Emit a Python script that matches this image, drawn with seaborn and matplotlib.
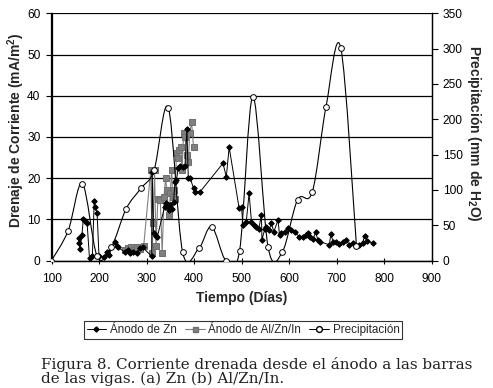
import numpy as np
import pandas as pd
import matplotlib
matplotlib.use("Agg")
import matplotlib.pyplot as plt
from matplotlib.path import Path
from matplotlib.patches import PathPatch
from matplotlib.lines import Line2D
import seaborn as sns

# ---------------- data ----------------
zn_dias = [157, 158, 160, 164, 167, 171, 175, 180, 186, 190, 192, 196, 200, 210, 216, 220,
           234, 237, 241, 254, 260, 266, 272, 279, 286, 292,
           311, 312, 315, 319, 323, 338, 341, 344, 347, 350, 354, 357, 360, 363, 367, 371,
           376, 381, 385, 388, 392, 399, 403, 413, 461, 468, 474, 495, 500, 503, 510, 516,
           521, 526, 531, 536, 542, 543, 549, 552, 558, 563, 568, 577, 580, 584, 591, 598,
           605, 612, 622, 629, 636, 640, 645, 650, 656, 661, 665, 685, 688, 693, 699, 706,
           713, 720, 727, 734, 741, 748, 755, 759, 765, 776]
zn_corriente = [5.4, 4.2, 2.8, 6.2, 10.0, 9.5, 9.0, 0.5, 1.0, 14.5, 13.0, 11.5, 1.0, 0.8, 2.0, 1.3,
                4.5, 3.6, 3.2, 2.0, 2.5, 1.8, 2.0, 1.8, 3.0, 3.2,
                1.0, 21.6, 6.6, 6.0, 5.8, 13.0, 14.0, 13.5, 12.3, 13.5, 12.4, 14.2, 19.0, 19.5, 22.5, 23.0,
                22.8, 23.0, 32.0, 20.0, 20.0, 17.5, 16.7, 16.7, 23.6, 20.3, 27.5, 12.7, 13.0, 8.6, 9.4, 16.3,
                9.4, 8.6, 8.2, 7.6, 11.0, 5.0, 7.6, 8.2, 7.4, 9.0, 7.0, 9.8, 6.2, 6.6, 7.0, 7.8,
                7.4, 6.8, 5.8, 5.6, 6.2, 6.6, 5.8, 5.1, 6.8, 5.0, 4.6, 3.8, 6.4, 4.6, 4.6, 4.0,
                4.6, 5.0, 3.8, 4.2, 3.6, 3.8, 4.3, 6.0, 4.8, 4.2]

al_dias = [255, 262, 268, 274, 280, 286, 294, 309, 312, 314, 317, 320, 324, 329, 333, 337,
           340, 343, 345, 348, 350, 353, 355, 357, 360, 363, 366, 369, 372, 375, 378, 381,
           385, 388, 391, 395, 399]
al_corriente = [2.5, 3.0, 3.3, 2.6, 3.2, 2.8, 3.4, 22.0, 1.7, 9.0, 22.0, 3.4, 15.0, 14.7, 1.9, 15.5,
                20.0, 17.0, 13.5, 11.0, 16.5, 22.0, 15.5, 17.0, 15.0, 26.0, 25.0, 26.8, 27.5, 22.0, 30.9, 30.0,
                25.5, 24.0, 31.0, 33.5, 27.5]

lluvia_dias = [100, 135, 165, 196, 226, 257, 288, 316, 346, 376, 410, 437, 467, 496, 524,
               556, 586, 618, 649, 678, 709, 742]
lluvia_mm = [0, 42, 109, 6, 19, 73, 102, 128, 216, 12, 17, 48, 0, 14, 232,
             19, 12, 86, 97, 218, 301, 21]

x_ticks = [100, 200, 300, 400, 500, 600, 700, 800, 900]
y_ticks = [0, 10, 20, 30, 40, 50, 60]
y2_ticks = [0, 50, 100, 150, 200, 250, 300, 350]

serie_zn = "Ánodo de Zn"
serie_al = "Ánodo de Al/Zn/In"
serie_lluvia = "Precipitación"

# ---------------- style ----------------
sns.set_style("white")
plt.rcParams["font.family"] = ["Liberation Sans", "DejaVu Sans"]
plt.rcParams["mathtext.fontset"] = "custom"
plt.rcParams["mathtext.rm"] = "Liberation Sans"
plt.rcParams["mathtext.bf"] = "Liberation Sans:bold"

df_zn = pd.DataFrame({"dias": zn_dias, "corriente": zn_corriente})
df_al = pd.DataFrame({"dias": al_dias, "corriente": al_corriente})
df_ll = pd.DataFrame({"dias": lluvia_dias, "mm": lluvia_mm})

W, H = 493, 388
fig = plt.figure(figsize=(W / 100, H / 100), dpi=100)
ax = fig.add_axes([51.5 / W, 1 - 260.5 / H, 380 / W, 247.2 / H])
ax.set_facecolor("white")

ax.set_xlim(100, 900)
ax.set_ylim(0, 60)
ax.set_yticks(y_ticks)
ax.set_xticks(x_ticks)
ax.yaxis.grid(True, color="black", linewidth=0.9)
ax.xaxis.grid(False)
ax.set_axisbelow(True)

sns.lineplot(data=df_al, x="dias", y="corriente", ax=ax, estimator=None, sort=False,
             color="#808080", linewidth=0.8, marker="s", markersize=4.2,
             markeredgecolor="#707070", markerfacecolor="#808080", zorder=3)
sns.lineplot(data=df_zn, x="dias", y="corriente", ax=ax, estimator=None, sort=False,
             color="black", linewidth=0.7, marker="D", markersize=2.8,
             markeredgecolor="black", markerfacecolor="black", zorder=4)

ax2 = ax.twinx()
ax2.set_ylim(0, 350)
ax2.set_yticks(y2_ticks)
ax2.set_xlim(100, 900)

# smoothed (Excel-like) rendering of the precipitation line
px = np.asarray(lluvia_dias, float)
py = np.asarray(lluvia_mm, float)
P = np.column_stack([px, py])
Pe = np.vstack([P[0], P, P[-1]])
verts = [tuple(P[0])]
codes = [Path.MOVETO]
for i in range(len(P) - 1):
    p0, p1, p2, p3 = Pe[i], Pe[i + 1], Pe[i + 2], Pe[i + 3]
    c1 = p1 + (p2 - p0) / 6.0
    c2 = p2 - (p3 - p1) / 6.0
    verts += [tuple(c1), tuple(c2), tuple(p2)]
    codes += [Path.CURVE4] * 3
ax2.add_patch(PathPatch(Path(verts, codes), facecolor="none", edgecolor="black",
                        linewidth=0.8, zorder=5))
sns.scatterplot(data=df_ll, x="dias", y="mm", ax=ax2, marker="o", s=17,
                facecolor="white", edgecolor="black", linewidth=0.7, zorder=6)

for a in (ax, ax2):
    a.spines["top"].set_visible(False)
    for s in ("left", "right", "bottom"):
        a.spines[s].set_color("black")
        a.spines[s].set_linewidth(0.9)

ax.tick_params(axis="x", direction="inout", length=4, width=0.8, pad=7,
               labelsize=8.6, colors="black", bottom=True)
ax.tick_params(axis="y", direction="out", length=4, width=0.8, pad=4,
               labelsize=8.6, colors="black", left=True)
ax2.tick_params(axis="y", direction="out", length=4, width=0.8, pad=4,
                labelsize=8.6, colors="black", right=True)

ax.set_xlabel("Tiempo (Días)", fontsize=10, fontweight="bold")
ax.xaxis.set_label_coords((242 - 51.5) / 380, (260.5 - 298) / 247.2)
ax.xaxis.label.set_va("center")
ax.set_ylabel(r"Drenaje de Corriente (mA/m$\mathbf{^2}$)", fontsize=10, fontweight="bold")
ax.yaxis.set_label_coords((16 - 51.5) / 380, (260.5 - 130) / 247.2)
ax.yaxis.label.set_va("center")
ax2.set_ylabel(r"Precipitación (mm de H$\mathbf{_2}$O)", fontsize=10, fontweight="bold",
               rotation=270)
ax2.yaxis.set_label_coords((474 - 51.5) / 380, (260.5 - 133) / 247.2)
ax2.yaxis.label.set_va("center")

handles = [
    Line2D([], [], color="black", linewidth=0.7, marker="D", markersize=2.6,
           markerfacecolor="black", markeredgecolor="black"),
    Line2D([], [], color="#808080", linewidth=0.8, marker="s", markersize=3.6,
           markerfacecolor="#808080", markeredgecolor="#707070"),
    Line2D([], [], color="black", linewidth=0.7, marker="o", markersize=4.2,
           markerfacecolor="white", markeredgecolor="black"),
]
leg = fig.legend(handles, [serie_zn, serie_al, serie_lluvia], loc="center",
                 bbox_to_anchor=(243 / W, 1 - 330 / H), ncol=3, fontsize=8.4,
                 frameon=True, fancybox=False, shadow=False, handlelength=1.7,
                 handletextpad=0.3, columnspacing=0.7, borderpad=0.25,
                 borderaxespad=0)
leg.get_frame().set_edgecolor("black")
leg.get_frame().set_linewidth(0.8)

fig.text(41 / W, 1 - 369 / H, "Figura 8. Corriente drenada desde el ánodo a las barras",
         family="DejaVu Serif", fontsize=10.9, va="baseline", ha="left", color="#222222")
fig.text(41 / W, 1 - 382.5 / H, "de las vigas. (a) Zn (b) Al/Zn/In.",
         family="DejaVu Serif", fontsize=10.9, va="baseline", ha="left", color="#222222")

fig.savefig("out.png", dpi=100, facecolor="white")
